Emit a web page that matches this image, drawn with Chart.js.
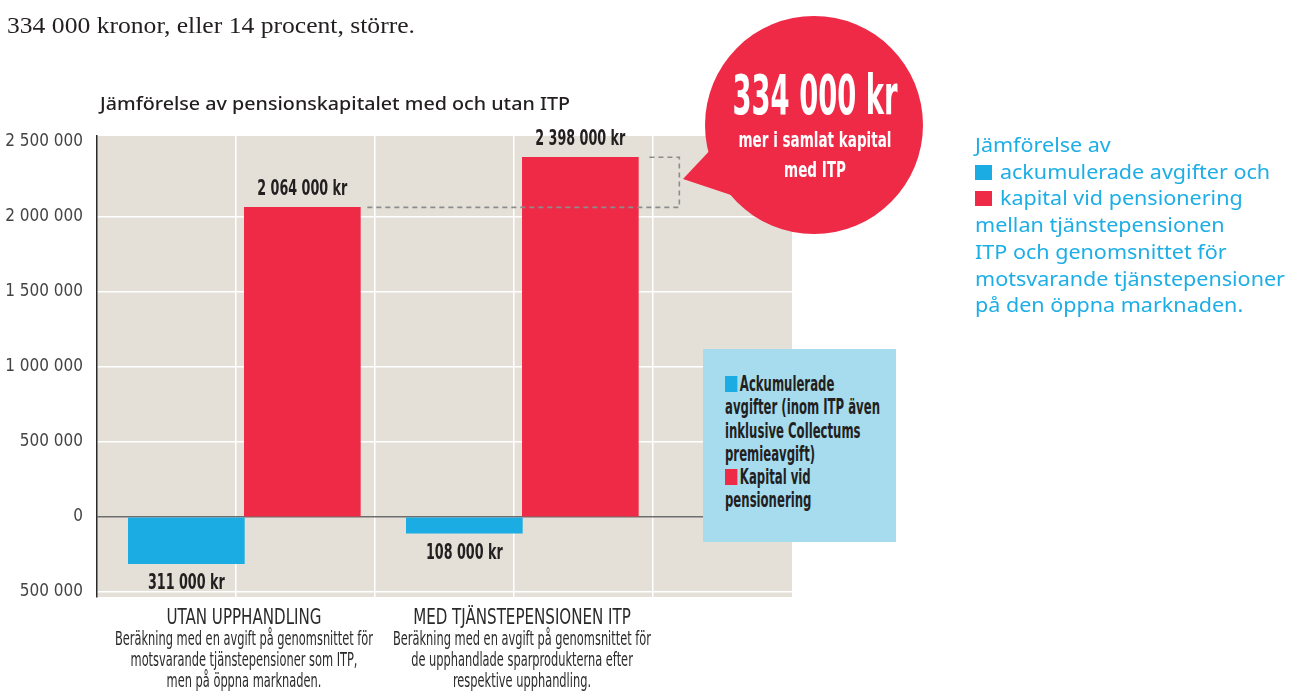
<!DOCTYPE html>
<html lang="sv">
<head>
<meta charset="utf-8">
<script src="https://cdn.jsdelivr.net/npm/chart.js@4.4.1/dist/chart.umd.min.js"></script>
<style>
  body { margin:0; width:1290px; height:695px; overflow:hidden; background:#fff; position:relative; }
  #c { position:absolute; left:0; top:0; }
  .abs { position:absolute; white-space:nowrap; }
  .narrow { font-family:"Liberation Sans Narrow","DejaVu Sans Condensed","Liberation Sans",sans-serif; }
  #intro { left:7px; top:10px; line-height:30px; font-family:"Liberation Serif",serif; font-size:24px; color:#231f20; transform-origin:0 0; }
  #title { left:100px; top:91px; line-height:24px; font-family:"Noto Sans",sans-serif; font-size:18px; font-weight:500; color:#231f20; transform-origin:0 0; }
  #legend { left:703px; top:349px; width:193px; height:193px; background:#a6dcee; }
  #legtext { left:22px; top:24px; line-height:23.3px; font-size:21px; font-weight:bold; color:#231f20; transform-origin:0 0; }
  .sq { display:inline-block; width:20px; height:16px; margin-right:4px; vertical-align:-1px; }
  #side { left:975px; top:132px; line-height:26.7px; font-family:"Noto Sans",sans-serif; font-size:19px; color:#1daee6; transform-origin:0 0; }
  .sq2 { display:inline-block; width:15px; height:15px; margin-right:7px; vertical-align:-1px; }
  #bubble { left:680px; top:10px; }
  .bt { color:#fff; font-weight:bold; text-align:center; }
  .xh { font-size:22px; line-height:26px; color:#2a2a2a; }
  .xs { font-size:19px; line-height:21px; color:#2a2a2a; text-align:center; }
</style>
</head>
<body>
<canvas id="c" width="1290" height="695"></canvas>

<div id="intro" class="abs">334 000 kronor, eller 14 procent, större.</div>
<div id="title" class="abs">Jämförelse av pensionskapitalet med och utan ITP</div>

<svg id="bubble" class="abs" width="260" height="240">
  <circle cx="134" cy="115" r="109" fill="#ee2a47"/>
  <polygon points="3,169 34,136 60,188" fill="#ee2a47"/>
</svg>
<div id="bigNum" class="abs narrow bt" style="left:815px; top:64px; font-size:56px; line-height:62px;"></div>
<div id="bubLine1" class="abs narrow bt" style="left:815px; top:127px; font-size:22px; line-height:26px;">mer i samlat kapital</div>
<div id="bubLine2" class="abs narrow bt" style="left:815px; top:157px; font-size:22px; line-height:26px;">med ITP</div>

<div id="legend" class="abs">
  <div id="legtext" class="abs narrow"><span class="sq" style="background:#1aace2"></span>Ackumulerade<br>avgifter (inom ITP även<br>inklusive Collectums<br>premieavgift)<br><span class="sq" style="background:#ee2a47"></span>Kapital vid<br>pensionering</div>
</div>

<div id="side" class="abs">Jämförelse av<br><span class="sq2" style="background:#1aace2"></span>ackumulerade avgifter och<br><span class="sq2" style="background:#ee2a47"></span>kapital vid pensionering<br>mellan tjänstepensionen<br>ITP och genomsnittet för<br>motsvarande tjänstepensioner<br>på den öppna marknaden.</div>

<script>
const categories = ['UTAN UPPHANDLING', 'MED TJÄNSTEPENSIONEN ITP'];
const subtitles = [
  ['Beräkning med en avgift på genomsnittet för', 'motsvarande tjänstepensioner som ITP,', 'men på öppna marknaden.'],
  ['Beräkning med en avgift på genomsnittet för', 'de upphandlade sparprodukterna efter', 'respektive upphandling.']
];
const avgifter = [-311000, -108000];   // ackumulerade avgifter
const kapital = [2064000, 2398000];    // kapital vid pensionering
const yTicks = [-500000, 0, 500000, 1000000, 1500000, 2000000, 2500000];

const NARROW = '"Liberation Sans Narrow", "DejaVu Sans Condensed", "Liberation Sans", sans-serif';
const fmt = v => String(Math.abs(v)).replace(/\B(?=(\d{3})+(?!\d))/g, ' ');
// one category slot every second grid column
const xPos = categories.map((c, i) => 1 + 2 * i);
// vertical grid sits a little left of the group centres
const gridShift = -0.06;

function fitLeft(el, w) {
  const k = w / el.getBoundingClientRect().width;
  el.style.transform = 'scaleX(' + k + ')';
  return k;
}
function center(el, cx, k) {
  el.style.left = cx + 'px';
  el.style.transform = 'translateX(-50%) scaleX(' + k + ')';
}

const plotBg = {
  id: 'plotBg',
  beforeDraw(chart) {
    const { ctx, chartArea: a } = chart;
    ctx.save();
    ctx.fillStyle = '#e4e0d8';
    ctx.fillRect(a.left, a.top, a.right - a.left, a.bottom - a.top);
    ctx.restore();
  }
};

const barLabels = {
  id: 'barLabels',
  afterDatasetsDraw(chart) {
    const ctx = chart.ctx;
    // dashed bracket showing the difference between the red bars
    const red = chart.getDatasetMeta(1).data;
    const r1 = red[0], r2 = red[1];
    const e1 = r1.x + r1.width / 2, e2 = r2.x + r2.width / 2;
    ctx.save();
    ctx.strokeStyle = '#8c8c8c';
    ctx.lineWidth = 1.6;
    ctx.setLineDash([5, 4]);
    ctx.beginPath();
    ctx.moveTo(e1 + 7, r1.y);
    ctx.lineTo(e2 + 41, r1.y);
    ctx.lineTo(e2 + 41, r2.y);
    ctx.lineTo(e2 + 10, r2.y);
    ctx.stroke();
    ctx.restore();

    ctx.save();
    ctx.font = 'bold 21px ' + NARROW;
    const k = 90 / ctx.measureText(fmt(kapital[0]) + ' kr').width;
    ctx.restore();

    chart.data.datasets.forEach((ds, i) => {
      chart.getDatasetMeta(i).data.forEach((bar, j) => {
        const v = ds.data[j].y;
        const y = v >= 0 ? bar.y - 19 : bar.y + 19;
        ctx.save();
        ctx.translate(bar.x, y);
        ctx.scale(k, 1);
        ctx.font = 'bold 21px ' + NARROW;
        ctx.fillStyle = '#231f20';
        ctx.textAlign = 'center';
        ctx.textBaseline = 'middle';
        ctx.fillText(fmt(v) + ' kr', 0, 1);
        ctx.restore();
      });
    });
  }
};

const chart = new Chart(document.getElementById('c'), {
  type: 'bar',
  data: {
    datasets: [
      {
        label: 'Ackumulerade avgifter',
        data: xPos.map((x, i) => ({ x: x, y: avgifter[i] })),
        backgroundColor: '#1aace2',
        barThickness: 116
      },
      {
        label: 'Kapital vid pensionering',
        data: xPos.map((x, i) => ({ x: x, y: kapital[i] })),
        backgroundColor: '#ee2a47',
        barThickness: 116
      }
    ]
  },
  options: {
    responsive: false,
    animation: false,
    layout: { padding: { top: 136, right: 498, left: 0, bottom: 0 } },
    plugins: { legend: { display: false }, tooltip: { enabled: false } },
    scales: {
      x: {
        type: 'linear',
        min: gridShift,
        max: 5 + gridShift,
        offset: false,
        afterBuildTicks: s => { s.ticks = [1, 2, 3, 4].map(v => ({ value: v + gridShift })); },
        afterFit: s => { s.height = 98; },
        ticks: { display: false },
        grid: { color: '#ffffff', lineWidth: 1.5, drawTicks: false, offset: false },
        border: { display: false }
      },
      y: {
        min: -533000,
        max: 2540000,
        afterBuildTicks: s => { s.ticks = yTicks.map(v => ({ value: v })); },
        afterFit: s => { s.width = 97; },
        ticks: {
          callback: v => fmt(v),
          font: { family: NARROW, size: 17 },
          color: '#444444',
          padding: 14
        },
        grid: {
          color: c => {
            if (c.tick && c.tick.value === 0) return '#6e6e6e';
            if (c.tick && c.tick.value === 2500000) return 'rgba(0,0,0,0)';
            return '#ffffff';
          },
          lineWidth: 1.5,
          drawTicks: false
        },
        border: { display: true, color: '#2a2a2a', width: 1.5 }
      }
    }
  },
  plugins: [plotBg, barLabels]
});

// x category labels under each bar group
const heads = [], subs = [];
categories.forEach((name, i) => {
  const cx = chart.scales.x.getPixelForValue(xPos[i]);
  const h = document.createElement('div');
  h.className = 'abs narrow xh';
  h.style.top = '604px';
  h.textContent = name;
  document.body.appendChild(h);
  const s = document.createElement('div');
  s.className = 'abs narrow xs';
  s.style.top = '628px';
  s.innerHTML = subtitles[i].join('<br>');
  document.body.appendChild(s);
  heads.push([h, cx]);
  subs.push([s, cx]);
});
const kh = 155 / heads[0][0].getBoundingClientRect().width;
heads.forEach(([el, cx]) => center(el, cx, kh));
const ks = 258 / subs[0][0].getBoundingClientRect().width;
subs.forEach(([el, cx]) => center(el, cx, ks));

// bubble text: the difference between the two capital values
const big = document.getElementById('bigNum');
big.textContent = fmt(kapital[1] - kapital[0]) + ' kr';
center(big, 815, 165 / big.getBoundingClientRect().width);
const b1 = document.getElementById('bubLine1');
const kb = 153 / b1.getBoundingClientRect().width;
center(b1, 815, kb);
center(document.getElementById('bubLine2'), 815, kb);

fitLeft(document.getElementById('intro'), 408);
fitLeft(document.getElementById('title'), 470);
fitLeft(document.getElementById('legtext'), 155);
fitLeft(document.getElementById('side'), 310);
</script>
</body>
</html>
